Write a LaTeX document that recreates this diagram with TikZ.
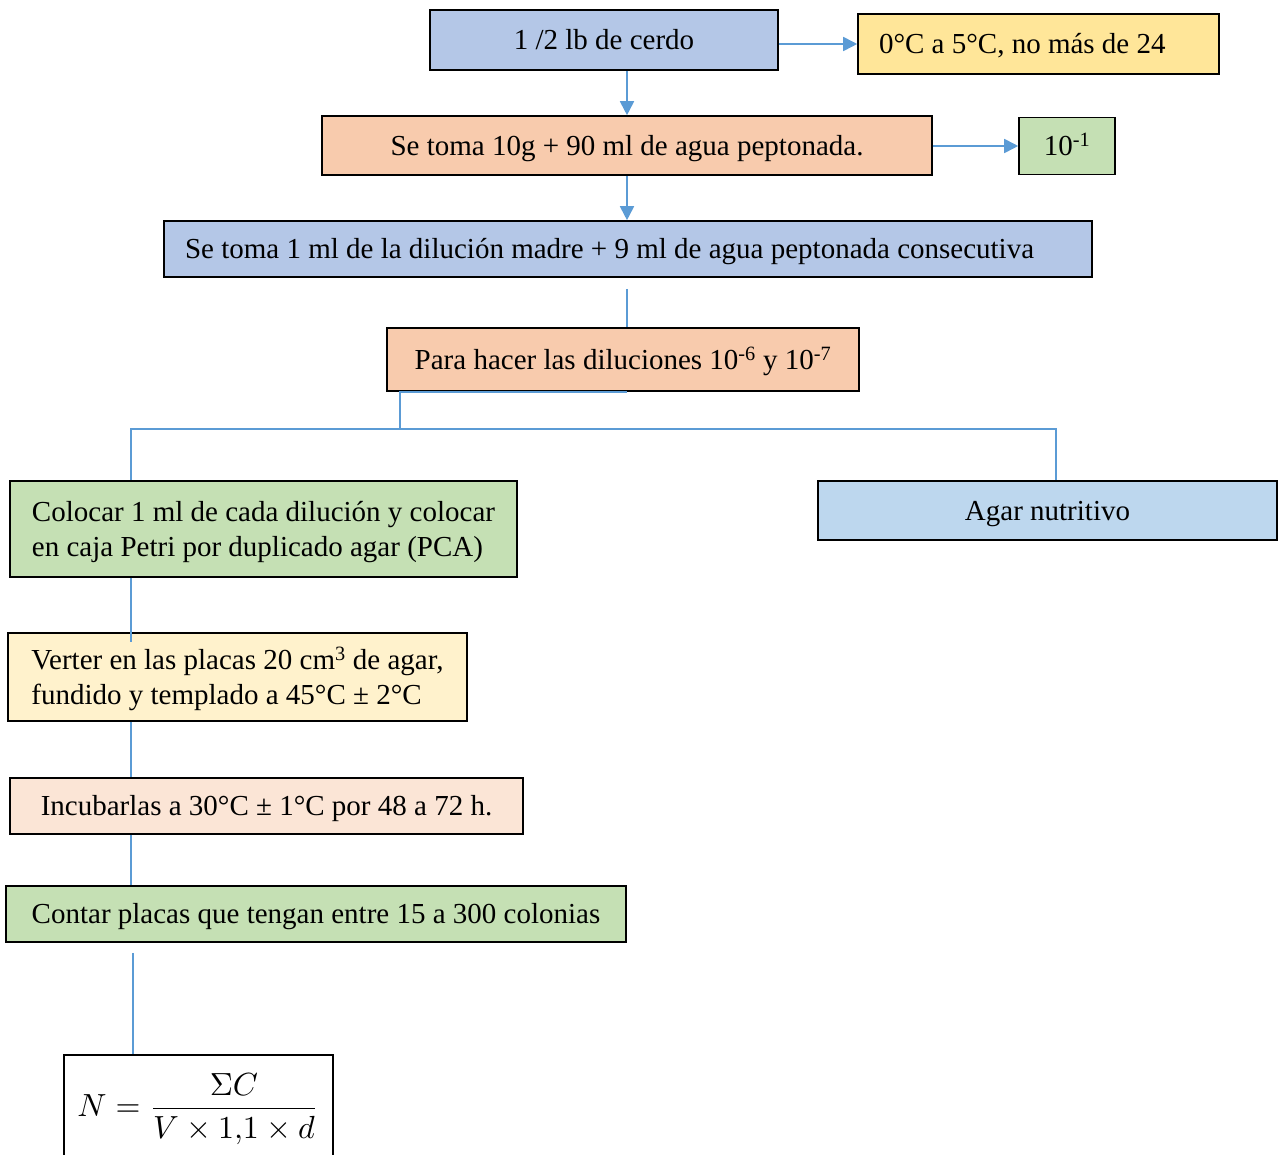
\documentclass[tikz,border=0pt]{standalone}
\usepackage{fontspec}
\usepackage{graphicx}
\setmainfont{Liberation Serif}
\usetikzlibrary{arrows.meta}
\definecolor{fillBlue}{HTML}{B4C7E7}
\definecolor{fillSky}{HTML}{BDD7EE}
\definecolor{fillGold}{HTML}{FFE699}
\definecolor{fillCream}{HTML}{FFF2CC}
\definecolor{fillPeach}{HTML}{F8CBAD}
\definecolor{fillBlush}{HTML}{FBE5D6}
\definecolor{fillGreen}{HTML}{C5E0B4}
\definecolor{linkBlue}{HTML}{5B9BD5}
\begin{document}
\begin{tikzpicture}[x=1pt,y=-1pt,
  box/.style={draw=black, line width=1.6pt, inner xsep=21pt, inner ysep=0pt,
    align=center, font=\fontsize{29}{35}\selectfont,
    text height=23pt, text depth=3.4pt},
  twoline/.style={align=left, text height=58pt, text depth=3.4pt},
  leftbox/.style={box, align=flush left},
  link/.style={draw=linkBlue, line width=1.8pt},
  arr/.style={link, -{Triangle[length=14pt,width=14pt]}}]
\clip (0,0) rectangle (1278,1155);
\useasboundingbox (0,0) rectangle (1278,1155);

% steps of the procedure
\node[box, fill=fillBlue, minimum width=348, minimum height=60] (cerdo) at (604,40) {1 /2 lb de cerdo};
\node[leftbox, fill=fillGold, minimum width=361, minimum height=60, text width=319] (temp) at (1038.5,44) {0°C a 5°C, no más de 24};
\node[box, fill=fillPeach, minimum width=610, minimum height=59] (toma10) at (627,145.5) {Se toma 10g + 90 ml de agua peptonada.};
\node[box, fill=fillGreen, minimum width=96, minimum height=57, inner xsep=0pt] (dil1) at (1067,146) {10\textsuperscript{-1}};
\node[leftbox, fill=fillBlue, minimum width=928, minimum height=56, text width=886] (toma1) at (628,249) {Se toma 1 ml de la dilución madre + 9 ml de agua peptonada consecutiva};
\node[box, fill=fillPeach, minimum width=472, minimum height=63] (para) at (623,359.5) {Para hacer las diluciones 10\textsuperscript{-6} y 10\textsuperscript{-7}};
\node[box, twoline, fill=fillGreen, minimum width=507, minimum height=96] (colocar) at (263.5,529) {Colocar 1 ml de cada dilución y colocar\\en caja Petri por duplicado agar (PCA)};
\node[box, fill=fillSky, minimum width=459, minimum height=59] (agar) at (1047.5,510.5) {Agar nutritivo};
\node[box, twoline, fill=fillCream, minimum width=459, minimum height=88] (verter) at (237.5,677) {Verter en las placas 20 cm\textsuperscript{3} de agar,\\fundido y templado a 45°C ± 2°C};
\node[box, fill=fillBlush, minimum width=513, minimum height=56] (incub) at (266.5,806) {Incubarlas a 30°C ± 1°C por 48 a 72 h.};
\node[box, fill=fillGreen, minimum width=620, minimum height=56] (contar) at (316,914) {Contar placas que tengan entre 15 a 300 colonias};
\node[box, fill=white, minimum width=269, minimum height=130] (frame) at (198.5,1120) {};
\node[inner sep=0pt] (formula) at (198,1109) {\scalebox{3.2}{$N=\displaystyle\frac{\Sigma C}{V\times 1{,}1\times d}$}};

% connectors
\coordinate (lt) at (131,429);
\coordinate (rt) at (1056,429);
\coordinate (split) at (400,429);
\coordinate (fx) at (133,0);
\draw[arr] (temp.west -| cerdo.east) -- (temp.west);
\draw[arr] (toma10.north |- cerdo.south) -- (toma10.north);
\draw[arr] (dil1.west -| toma10.east) -- (dil1.west);
\draw[arr] (toma10.south) -- (toma10.south |- toma1.north);
\draw[link] ([yshift=-11pt]toma1.south -| toma10.south) -- (toma10.south |- para.north);
\draw[link] (para.south -| toma10.south) -- (para.south -| split) -- (split);
\draw[link] (lt |- colocar.north) -- (lt) -- (rt) -- (rt |- agar.north);
\draw[link] (lt |- colocar.south) -- ([yshift=-10pt]lt |- verter.north);
\draw[link] (lt |- verter.south) -- (lt |- incub.north);
\draw[link] (lt |- incub.south) -- (lt |- contar.north);
\draw[link] ([yshift=-10pt]fx |- contar.south) -- (fx |- frame.north);
\end{tikzpicture}
\end{document}
